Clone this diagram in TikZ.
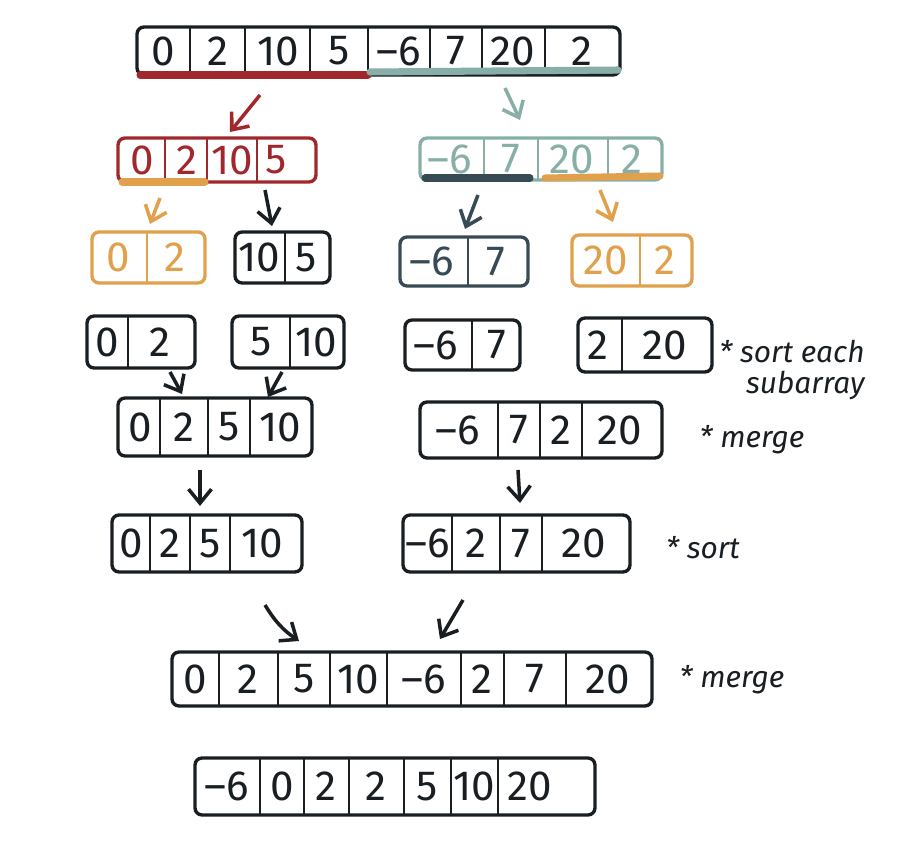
\documentclass[tikz,border=0pt]{standalone}
\usepackage{fontspec}
\setmainfont{Fira Sans}
\usetikzlibrary{arrows.meta}
\definecolor{inkred}{RGB}{160,40,45}
\definecolor{inkteal}{RGB}{135,175,168}
\definecolor{inkorange}{RGB}{225,160,75}
\definecolor{inkslate}{RGB}{55,75,85}
\definecolor{ink}{RGB}{25,30,35}
\tikzset{
  cellbox/.style={line width=1.9pt, rounded corners=4pt},
  cellbar/.style={line width=1.6pt},
  num/.style={font=\fontsize{24}{26}\selectfont, inner sep=0pt},
  note/.style={font=\fontsize{17}{18}\selectfont\itshape, inner sep=0pt, text=ink},
  hint/.style={line width=2pt, -{Straight Barb[length=8pt,width=13pt]}},
  under/.style={line width=4pt, line cap=round},
}
% #1 name, #2 colour, #3 left, #4 top, #5 right, #6 bottom, #7 dividers, #8 centre/label
\newcommand{\arrayrow}[8]{%
  \draw[cellbox,#2] (#3,#4) rectangle (#5,#6);
  \foreach \px in {#7} \draw[cellbar,#2] (\px,#4) -- (\px,#6);
  \foreach \cx/\lab [count=\i] in {#8}
    \node[num,text=#2] (#1-\i) at (\cx,{(#4+#6)/2}) {\lab};
}
\begin{document}
\begin{tikzpicture}[x=0.02cm,y=-0.02cm]
  \useasboundingbox (0,0) rectangle (921,851);
  %%%%% START %%%%%
  % split
  \arrayrow{top}{ink}{137}{27}{620}{75}{190,245,310,368,430,482,545}
    {163/0,218/2,278/10,339/5,399/–6,456/7,513/20,582/2}
  \draw[under,inkred] (140,75) -- (368,75);
  \draw[under,inkteal] (370,72) -- (618,70);

  \coordinate (s1) at (260,95);  \coordinate (e1) at (230,132);
  \coordinate (s2) at (505,88);  \coordinate (e2) at (520,120);
  \draw[hint,inkred] (s1) -- (e1);
  \draw[hint,inkteal] (s2) -- (e2);

  \arrayrow{lefthalf}{inkred}{118}{138}{316}{182}{165,207,257}
    {142/0,187/2,232/10,276/5}
  \arrayrow{righthalf}{inkteal}{420}{138}{662}{180}{484,538,608}
    {450/–6,511/7,572/20,632/2}
  \draw[under,inkorange] (122,182) -- (205,182);
  \draw[under,inkslate] (425,178) -- (530,178);
  \draw[under,inkorange] (545,178) -- (660,176);

  \coordinate (s3) at (160,198); \coordinate (e3) at (150,224);
  \coordinate (s4) at (265,190); \coordinate (e4) at (272,226);
  \coordinate (s5) at (478,195); \coordinate (e5) at (465,229);
  \coordinate (s6) at (600,190); \coordinate (e6) at (613,222);
  \draw[hint,inkorange] (s3) -- (e3);
  \draw[hint,ink] (s4) -- (e4);
  \draw[hint,inkslate] (s5) -- (e5);
  \draw[hint,inkorange] (s6) -- (e6);

  \arrayrow{pairA}{inkorange}{92}{232}{205}{283}{147}{118/0,175/2}
  \arrayrow{pairB}{ink}{235}{232}{330}{283}{285}{259/10,306/5}
  \arrayrow{pairC}{inkslate}{400}{237}{528}{286}{468}{432/–6,496/7}
  \arrayrow{pairD}{inkorange}{572}{235}{692}{286}{640}{606/20,665/2}

  % sort each subarray
  \arrayrow{sortA}{ink}{87}{316}{195}{368}{128}{107/0,160/2}
  \arrayrow{sortB}{ink}{232}{316}{344}{368}{290}{261/5,316/10}
  \arrayrow{sortC}{ink}{405}{320}{520}{370}{472}{436/–6,497/7}
  \arrayrow{sortD}{ink}{578}{318}{712}{372}{622}{598/2,665/20}
  \node[note,align=right,anchor=east] (notesort) at (865,370) {* sort each\\subarray};

  \coordinate (s7) at (170,372); \coordinate (e7) at (182,394);
  \coordinate (s8) at (282,372); \coordinate (e8) at (268,397);
  \draw[hint,ink] (s7) -- (e7);
  \draw[hint,ink] (s8) -- (e8);

  % merge
  \arrayrow{mergeL}{ink}{118}{398}{312}{456}{160,208,250}
    {140/0,184/2,229/5,280/10}
  \arrayrow{mergeR}{ink}{420}{402}{662}{458}{498,540,582}
    {458/–6,519/7,561/2,620/20}
  \node[note] (notemerge) at (752,440) {* merge};

  \coordinate (s9) at (200,470);  \coordinate (e9) at (200,506);
  \coordinate (s10) at (518,470); \coordinate (e10) at (520,503);
  \draw[hint,ink] (s9) -- (e9);
  \draw[hint,ink] (s10) -- (e10);

  % sort
  \arrayrow{sortL}{ink}{112}{515}{302}{572}{150,190,230}
    {131/0,170/2,210/5,262/10}
  \arrayrow{sortR}{ink}{403}{515}{630}{572}{452,500,542}
    {428/–6,476/2,521/7,584/20}
  \node[note] (notesort2) at (703,548) {* sort};

  \coordinate (s11) at (265,605); \coordinate (e11) at (299,641);
  \coordinate (s12) at (463,600); \coordinate (e12) at (440,639);
  \draw[hint,ink] (s11) to[bend right=12] (e11);
  \draw[hint,ink] (s12) -- (e12);

  % merge all
  \arrayrow{whole}{ink}{172}{652}{652}{706}{219,278,330,387,461,504,566}
    {195/0,248/2,304/5,358/10,424/–6,482/2,535/7,608/20}
  \node[note] (notemerge2) at (732,680) {* merge};

  % result
  \arrayrow{result}{ink}{195}{758}{595}{815}{260,304,349,404,451,498}
    {227/–6,282/0,326/2,376/2,427/5,474/10,530/20}
  %%%%% END %%%%%
\end{tikzpicture}
\end{document}
